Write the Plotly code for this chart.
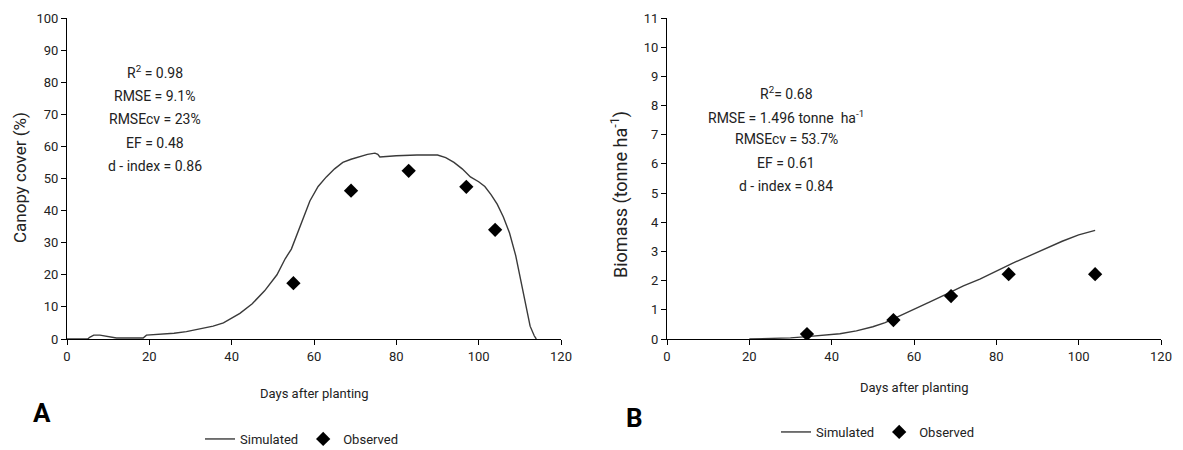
import plotly.graph_objects as go

# ---- Data ----
days_sim_a = [0, 5, 5.6, 6.5, 8, 10, 12, 15, 18.5, 19.3, 22, 26, 29, 32, 35.5, 38, 40, 42, 45, 48,
              51, 53, 54.5, 56, 57.5, 59, 61, 63, 65, 67, 69, 71, 73, 74.8, 75.5, 76, 78, 80, 85, 90,
              92, 94, 96, 98, 100, 101.5, 103, 104.5, 106, 107.5, 109, 110.5, 111.5, 112.5, 113.5, 114]
cc_sim = [0, 0, 0.6, 1.2, 1.2, 0.7, 0.3, 0.3, 0.3, 1.2, 1.4, 1.8, 2.3, 3.0, 4.0, 5.0, 6.6, 8.0, 11, 15,
          20, 25, 28, 33, 38, 43, 47.5, 50.5, 53, 55, 56, 56.8, 57.5, 57.9, 57.5, 56.7, 56.9, 57.1, 57.3, 57.3,
          56.5, 55, 53, 50.5, 49, 47.5, 45, 42, 38, 33, 26, 17, 10, 4, 1, 0]
days_obs_a = [55, 69, 83, 97, 104]
cc_obs = [17.4, 46.2, 52.4, 47.4, 34.0]

days_sim_b = [20, 25, 30, 34, 38, 42, 46, 50, 53, 56, 60, 64, 68, 72, 76, 80, 84, 88, 92, 96, 100, 104]
bm_sim = [0, 0.01, 0.04, 0.08, 0.12, 0.18, 0.28, 0.42, 0.56, 0.75, 1.0, 1.28, 1.55, 1.82, 2.05, 2.33,
          2.6, 2.85, 3.1, 3.35, 3.57, 3.72]
days_obs_b = [34, 55, 69, 83, 104]
bm_obs = [0.17, 0.65, 1.47, 2.22, 2.22]

x_ticks = [0, 20, 40, 60, 80, 100, 120]
ya_ticks = list(range(0, 101, 10))
yb_ticks = list(range(0, 12, 1))

stats_a = ["R<sup>2</sup> = 0.98", "RMSE = 9.1%", "RMSEcv = 23%", "EF = 0.48", "d - index = 0.86"]
stats_b = ["R<sup>2</sup>= 0.68", "RMSE = 1.496 tonne  ha<sup>-1</sup>", "RMSEcv = 53.7%", "EF = 0.61",
           "d - index = 0.84"]

FONT = "Roboto, sans-serif"
W, H = 1183, 450
LINE_C = "#3a3a3a"
TXT_C = "#222222"


def px(x):
    return x / W


def py(y):
    return (H - y) / H


fig = go.Figure()

fig.add_trace(go.Scatter(x=days_sim_a, y=cc_sim, mode="lines", name="Simulated",
                         line=dict(color=LINE_C, width=1.4), xaxis="x", yaxis="y", legend="legend"))
fig.add_trace(go.Scatter(x=days_obs_a, y=cc_obs, mode="markers", name="Observed",
                         marker=dict(symbol="diamond", size=11, color="black"),
                         xaxis="x", yaxis="y", legend="legend"))
fig.add_trace(go.Scatter(x=days_sim_b, y=bm_sim, mode="lines", name="Simulated",
                         line=dict(color=LINE_C, width=1.4), xaxis="x2", yaxis="y2", legend="legend2"))
fig.add_trace(go.Scatter(x=days_obs_b, y=bm_obs, mode="markers", name="Observed",
                         marker=dict(symbol="diamond", size=11, color="black"),
                         xaxis="x2", yaxis="y2", legend="legend2"))

axis_common = dict(showgrid=False, zeroline=False, showline=True, linecolor="black", linewidth=1.2,
                   ticks="outside", ticklen=5, tickcolor="black", automargin=False,
                   tickfont=dict(family=FONT, size=13, color=TXT_C))

fig.update_layout(
    width=W, height=H,
    paper_bgcolor="white", plot_bgcolor="white",
    margin=dict(l=0, r=0, t=0, b=0, autoexpand=False),
    font=dict(family=FONT, size=14, color=TXT_C),
    xaxis=dict(domain=[px(67), px(561)], range=[0, 120], tickvals=x_ticks, anchor="y", **axis_common),
    yaxis=dict(domain=[py(339), py(18)], range=[0, 100], tickvals=ya_ticks, anchor="x", **axis_common),
    xaxis2=dict(domain=[px(667), px(1161)], range=[0, 120], tickvals=x_ticks, anchor="y2", **axis_common),
    yaxis2=dict(domain=[py(339), py(18)], range=[0, 11], tickvals=yb_ticks, anchor="x2", **axis_common),
    legend=dict(orientation="h", x=px(200), y=py(439), xanchor="left", yanchor="middle",
                font=dict(family=FONT, size=13, color=TXT_C), bgcolor="rgba(0,0,0,0)"),
    legend2=dict(orientation="h", x=px(776), y=py(432), xanchor="left", yanchor="middle",
                 font=dict(family=FONT, size=13, color=TXT_C), bgcolor="rgba(0,0,0,0)"),
    showlegend=True,
)


def ann(text, x, y, size=14, angle=0, color=TXT_C):
    fig.add_annotation(text=text, x=px(x), y=py(y), xref="paper", yref="paper",
                       showarrow=False, align="center", xanchor="center", yanchor="middle",
                       textangle=angle, font=dict(family=FONT, size=size, color=color))


for t, yy in zip(stats_a, [72, 96, 119, 143, 166]):
    ann(t, 155, yy)
for t, yy in zip(stats_b, [93, 117, 139, 163, 186]):
    ann(t, 786, yy)

ann("Days after planting", 314, 393, size=13)
ann("Days after planting", 914, 387, size=13)
ann("Canopy cover (%)", 20, 178, size=17, angle=-90)
ann("Biomass (tonne ha<sup>-1</sup>)", 619, 195, size=18, angle=-90)
ann("<b>A</b>", 42, 413, size=26, color="black")
ann("<b>B</b>", 634, 418, size=26, color="black")

fig.write_html("out.html", config={"displayModeBar": False},
               post_script="document.body.style.margin='0';document.body.style.padding='0';"
                           "document.body.style.overflow='hidden';")
